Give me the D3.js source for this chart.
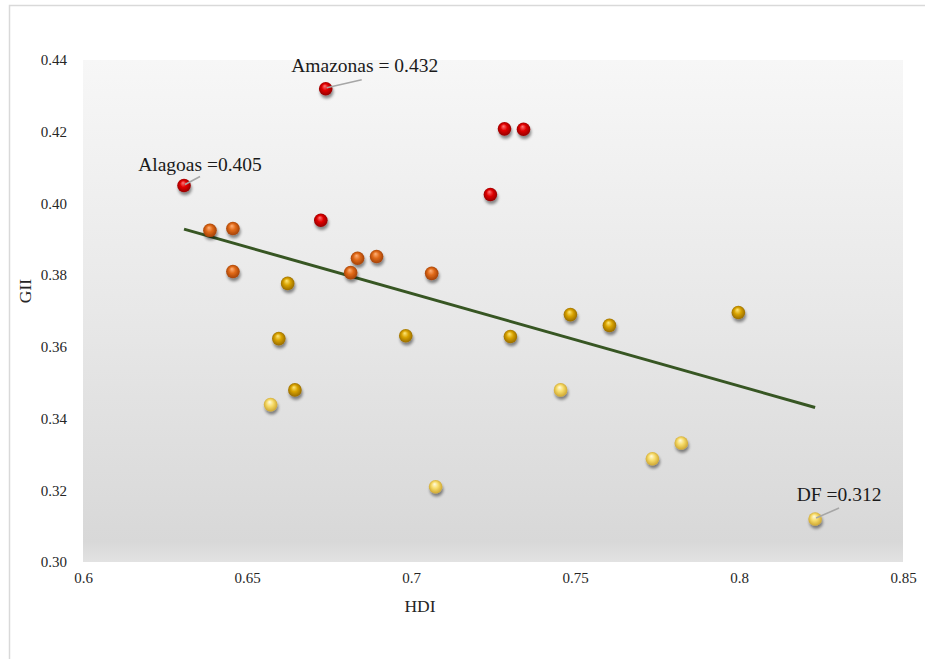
<!DOCTYPE html>
<html>
<head>
<meta charset="utf-8">
<script src="https://cdn.jsdelivr.net/npm/d3@7"></script>
<style>
  html, body { margin: 0; padding: 0; background: #fff; }
  svg { display: block; }
</style>
</head>
<body>
<svg id="chart" width="925" height="659"></svg>
<script>
// ---- data ----
const hdi = [0.674, 0.7285, 0.7343, 0.7242, 0.6308, 0.6725,
             0.6387, 0.6457, 0.6457, 0.6837, 0.6895, 0.6816, 0.7063,
             0.6624, 0.6597, 0.6646, 0.6984, 0.7303, 0.7486, 0.7605, 0.7998,
             0.6572, 0.7456, 0.7075, 0.7736, 0.7824, 0.8232];
const gii = [0.432, 0.4208, 0.4207, 0.4025, 0.405, 0.3953,
             0.3925, 0.393, 0.381, 0.3847, 0.3852, 0.3807, 0.3805,
             0.3777, 0.3623, 0.348, 0.3631, 0.3629, 0.369, 0.366, 0.3696,
             0.3439, 0.348, 0.321, 0.3288, 0.3332, 0.312];
const group = ["red","red","red","red","red","red",
               "orange","orange","orange","orange","orange","orange","orange",
               "gold","gold","gold","gold","gold","gold","gold","gold",
               "light","light","light","light","light","light"];
const xTicks = [0.6, 0.65, 0.7, 0.75, 0.8, 0.85];
const yTicks = [0.30, 0.32, 0.34, 0.36, 0.38, 0.40, 0.42, 0.44];
const annIndex = [0, 4, 26];
const annText = ["Amazonas = 0.432", "Alagoas =0.405", "DF =0.312"];

// ---- layout (label offsets in pixels) ----
const annLayout = [
  {tx: 39, ty: -17, lx: 36, ly: -9},
  {tx: 16, ty: -15, lx: 16, ly: -9},
  {tx: 24, ty: -18, lx: 24, ly: -11}
];

const svg = d3.select("#chart");
const plot = {left: 83, right: 903, top: 60, bottom: 562};
const x = d3.scaleLinear().domain([0.6, 0.85]).range([plot.left, plot.right]);
const y = d3.scaleLinear().domain([0.30, 0.44]).range([plot.bottom, plot.top]);

const defs = svg.append("defs");
const bg = defs.append("linearGradient").attr("id", "bg")
  .attr("x1", 0).attr("y1", 0).attr("x2", 0).attr("y2", 1);
bg.append("stop").attr("offset", "0%").attr("stop-color", "#f7f7f7");
bg.append("stop").attr("offset", "50%").attr("stop-color", "#e8e8e8");
bg.append("stop").attr("offset", "96%").attr("stop-color", "#d8d8d8");
bg.append("stop").attr("offset", "100%").attr("stop-color", "#e2e2e2");

const palette = {
  red:    {hi: "#ff7a7a", mid: "#e00000", lo: "#8a0000"},
  orange: {hi: "#ffb27a", mid: "#e06918", lo: "#9a3c05"},
  gold:   {hi: "#ffe87a", mid: "#d9a300", lo: "#8f6500"},
  light:  {hi: "#fffbe0", mid: "#f7dc6a", lo: "#c9a02a"}
};
Object.entries(palette).forEach(([k, c]) => {
  const g = defs.append("radialGradient").attr("id", "ball-" + k)
    .attr("cx", "50%").attr("cy", "50%").attr("r", "55%")
    .attr("fx", "42%").attr("fy", "30%");
  g.append("stop").attr("offset", "0%").attr("stop-color", c.hi);
  g.append("stop").attr("offset", "45%").attr("stop-color", c.mid);
  g.append("stop").attr("offset", "100%").attr("stop-color", c.lo);
});
const sh = defs.append("filter").attr("id", "shadow")
  .attr("x", "-50%").attr("y", "-50%").attr("width", "200%").attr("height", "200%");
sh.append("feGaussianBlur").attr("in", "SourceAlpha").attr("stdDeviation", 1.6).attr("result", "b");
sh.append("feOffset").attr("in", "b").attr("dx", 0.5).attr("dy", 2.5).attr("result", "o");
sh.append("feComponentTransfer").attr("in", "o").attr("result", "o2")
  .append("feFuncA").attr("type", "linear").attr("slope", 0.45);
const mg = sh.append("feMerge");
mg.append("feMergeNode").attr("in", "o2");
mg.append("feMergeNode").attr("in", "SourceGraphic");

// outer frame
svg.append("rect").attr("x", 9.5).attr("y", 5.5).attr("width", 930).attr("height", 670)
  .attr("fill", "#fff").attr("stroke", "#d9d9d9").attr("stroke-width", 1.5);

// plot background
svg.append("rect").attr("x", plot.left).attr("y", plot.top)
  .attr("width", plot.right - plot.left).attr("height", plot.bottom - plot.top)
  .attr("fill", "url(#bg)");

// axes (labels only)
const font = "'Liberation Serif', 'Times New Roman', serif";
const yAxis = svg.append("g").attr("transform", `translate(${plot.left - 16},0)`)
  .call(d3.axisLeft(y).tickValues(yTicks).tickFormat(d3.format(".2f")).tickSize(0).tickPadding(0));
yAxis.select(".domain").remove();
yAxis.selectAll("text").attr("font-family", font).attr("font-size", 15).attr("fill", "#262626");

const xAxis = svg.append("g").attr("transform", `translate(0,${plot.bottom + 10})`)
  .call(d3.axisBottom(x).tickValues(xTicks).tickFormat(d => String(d)).tickSize(0).tickPadding(0));
xAxis.select(".domain").remove();
xAxis.selectAll("text").attr("font-family", font).attr("font-size", 15).attr("fill", "#262626");

svg.append("text").attr("x", (plot.left + plot.right) / 2 - 73).attr("y", 612)
  .attr("text-anchor", "middle").attr("font-family", font).attr("font-size", 17.5)
  .attr("fill", "#262626").text("HDI");
svg.append("text").attr("transform", `translate(31,${(plot.top + plot.bottom) / 2 - 20}) rotate(-90)`)
  .attr("text-anchor", "middle").attr("font-family", font).attr("font-size", 17.5)
  .attr("fill", "#262626").text("GII");

// trend line (least squares)
const n = hdi.length;
const mx = d3.mean(hdi), my = d3.mean(gii);
let sxy = 0, sxx = 0;
for (let i = 0; i < n; i++) { sxy += (hdi[i] - mx) * (gii[i] - my); sxx += (hdi[i] - mx) ** 2; }
const slope = sxy / sxx, icpt = my - slope * mx;
const x0 = d3.min(hdi), x1 = d3.max(hdi);
svg.append("line")
  .attr("x1", x(x0)).attr("y1", y(icpt + slope * x0))
  .attr("x2", x(x1)).attr("y2", y(icpt + slope * x1))
  .attr("stroke", "#375623").attr("stroke-width", 3);

// points
const pts = d3.range(n).map(i => ({x: hdi[i], y: gii[i], g: group[i]}));
svg.append("g").selectAll("circle").data(pts).join("circle")
  .attr("cx", d => x(d.x)).attr("cy", d => y(d.y)).attr("r", 6.8)
  .attr("fill", d => `url(#ball-${d.g})`).attr("filter", "url(#shadow)");

// annotations
const ann = svg.append("g");
annIndex.forEach((idx, k) => {
  const px = x(hdi[idx]), py = y(gii[idx]), L = annLayout[k];
  ann.append("line").attr("x1", px + 1).attr("y1", py - 1)
    .attr("x2", px + L.lx).attr("y2", py + L.ly)
    .attr("stroke", "#a6a6a6").attr("stroke-width", 1.5);
  ann.append("text").attr("x", px + L.tx).attr("y", py + L.ty)
    .attr("text-anchor", "middle").attr("font-family", font).attr("font-size", 19.5)
    .attr("fill", "#1a1a1a").text(annText[k]);
});
</script>
</body>
</html>
